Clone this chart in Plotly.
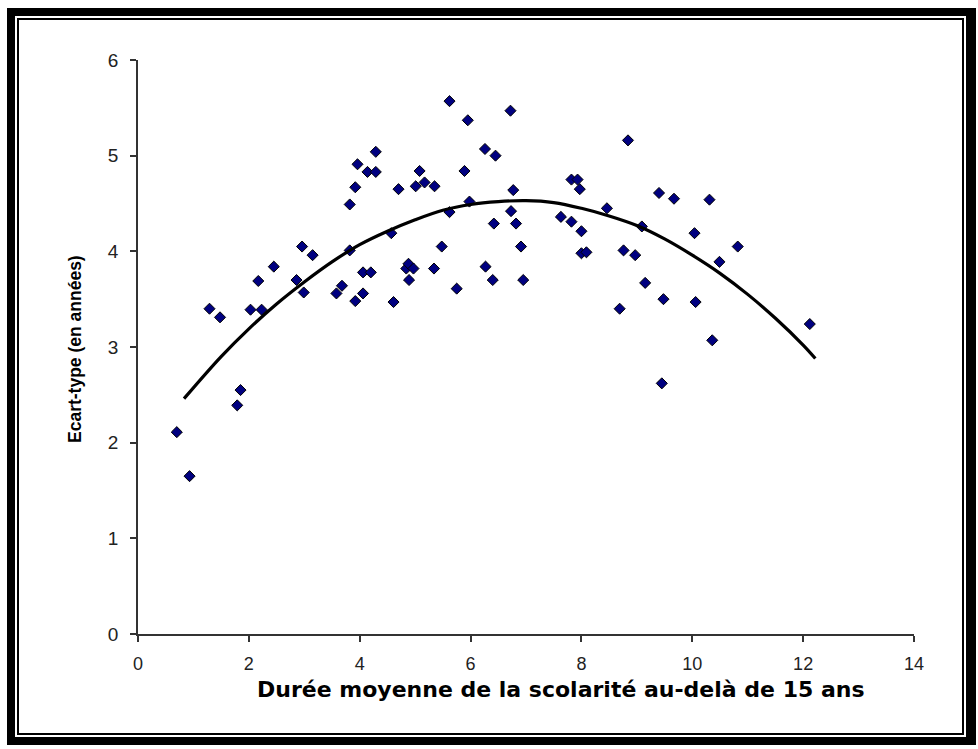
import plotly.graph_objects as go

# Scatter data (mean schooling beyond age 15 vs standard deviation)
duree = [0.70, 0.93, 1.29, 1.48, 1.79, 1.85, 2.03, 2.23, 2.17, 2.45,
         2.86, 2.99, 2.96, 3.15, 3.58, 3.68, 3.92, 4.06, 4.06, 4.20,
         3.82, 4.57, 3.82, 3.92, 3.96, 4.14, 4.29, 4.29, 4.70, 5.08,
         5.01, 5.17, 4.61, 4.84, 4.88, 4.97, 4.89, 5.35, 5.34, 5.48,
         5.62, 5.62, 5.75, 5.89, 5.95, 5.98, 6.26, 6.27, 6.42, 6.40,
         6.45, 6.72, 6.77, 6.73, 6.82, 6.91, 6.95, 7.63, 7.82, 7.93,
         7.97, 7.82, 8.00, 8.00, 8.09, 8.46, 8.69, 8.76, 8.84, 8.97,
         9.09, 9.15, 9.40, 9.45, 9.48, 9.67, 10.04, 10.06, 10.31, 10.36,
         10.49, 10.82, 12.12]
ecart = [2.11, 1.65, 3.40, 3.31, 2.39, 2.55, 3.39, 3.39, 3.69, 3.84,
         3.70, 3.57, 4.05, 3.96, 3.56, 3.64, 3.48, 3.56, 3.78, 3.78,
         4.01, 4.19, 4.49, 4.67, 4.91, 4.83, 4.83, 5.04, 4.65, 4.84,
         4.68, 4.72, 3.47, 3.82, 3.87, 3.82, 3.70, 4.68, 3.82, 4.05,
         5.57, 4.41, 3.61, 4.84, 5.37, 4.52, 5.07, 3.84, 4.29, 3.70,
         5.00, 5.47, 4.64, 4.42, 4.29, 4.05, 3.70, 4.36, 4.75, 4.75,
         4.65, 4.31, 4.21, 3.98, 3.99, 4.45, 3.40, 4.01, 5.16, 3.96,
         4.26, 3.67, 4.61, 2.62, 3.50, 4.55, 4.19, 3.47, 4.54, 3.07,
         3.89, 4.05, 3.24]

# Trend curve
tendance_x = [0.83, 1.5, 2.0, 2.5, 3.0, 3.5, 4.0, 4.5, 5.0, 5.5, 6.0, 6.5,
              7.0, 7.5, 8.0, 8.5, 9.0, 9.5, 10.0, 10.5, 11.0, 11.5, 12.0, 12.22]
tendance_y = [2.46, 2.90, 3.19, 3.45, 3.68, 3.89, 4.07, 4.21, 4.33, 4.43, 4.49, 4.52,
              4.53, 4.51, 4.45, 4.37, 4.27, 4.13, 3.96, 3.77, 3.55, 3.30, 3.02, 2.88]

x_ticks = [0, 2, 4, 6, 8, 10, 12, 14]
y_ticks = [0, 1, 2, 3, 4, 5, 6]
x_title = "Durée moyenne de la scolarité au-delà de 15 ans"
y_title = "Ecart-type (en années)"

ARIAL = "Liberation Sans, Arial, sans-serif"
WIDE = "DejaVu Sans, Liberation Sans, Arial, sans-serif"

fig = go.Figure()
fig.add_trace(go.Scatter(
    x=duree, y=ecart, mode="markers",
    marker=dict(symbol="diamond", size=8.5, color="#000080",
                line=dict(color="black", width=1)),
    showlegend=False, hoverinfo="x+y"))
fig.add_trace(go.Scatter(
    x=tendance_x, y=tendance_y, mode="lines",
    line=dict(color="black", width=3.2, shape="spline"),
    showlegend=False, hoverinfo="skip"))

W, H = 978, 749
L, R, T, B = 138, 64, 60, 115
pw, ph = W - L - R, H - T - B

def px(xp):
    return (xp - L) / pw

def py(yp):
    return (H - B - yp) / ph

shapes = []
# outer thick frame
for (x0, y0, x1, y1) in [(7, 8, 15, 745), (7, 8, 976, 16), (966, 8, 976, 745), (7, 737, 976, 745)]:
    shapes.append(dict(type="rect", xref="paper", yref="paper",
                       x0=px(x0), x1=px(x1), y0=py(y1), y1=py(y0),
                       fillcolor="black", line=dict(width=0), layer="above"))
# inner thin frame
shapes.append(dict(type="rect", xref="paper", yref="paper",
                   x0=px(18), x1=px(963), y0=py(734), y1=py(19),
                   fillcolor="rgba(0,0,0,0)", line=dict(color="black", width=2)))

annotations = [
    dict(text="<b>" + x_title + "</b>", xref="paper", yref="paper",
         x=px(561), y=py(689), xanchor="center", yanchor="middle", showarrow=False,
         font=dict(family=WIDE, size=22, color="black")),
    dict(text="<b>" + y_title + "</b>", xref="paper", yref="paper",
         x=px(75), y=py(349), xanchor="center", yanchor="middle", showarrow=False,
         textangle=-90, font=dict(family=ARIAL, size=17.5, color="black")),
]

fig.update_layout(
    width=W, height=H,
    margin=dict(l=L, r=R, t=T, b=B, pad=0),
    paper_bgcolor="white", plot_bgcolor="white",
    font=dict(family=ARIAL, color="black", size=18),
    shapes=shapes, annotations=annotations,
    xaxis=dict(range=[0, 14], tickvals=x_ticks, ticks="outside", ticklen=6,
               tickwidth=1.5, tickcolor="#333", showline=True, linecolor="#333",
               linewidth=1.5, showgrid=False, zeroline=False,
               tickfont=dict(family=ARIAL, size=18, color="#222"), ticklabelstandoff=7),
    yaxis=dict(range=[0, 6], tickvals=y_ticks, ticks="outside", ticklen=6,
               tickwidth=1.5, tickcolor="#333", showline=True, linecolor="#333",
               linewidth=1.5, showgrid=False, zeroline=False,
               tickfont=dict(family=ARIAL, size=19, color="#222"), ticklabelstandoff=8),
)

fig.write_html("out.html", config={"displayModeBar": False},
               post_script="document.body.style.margin='0px';")
